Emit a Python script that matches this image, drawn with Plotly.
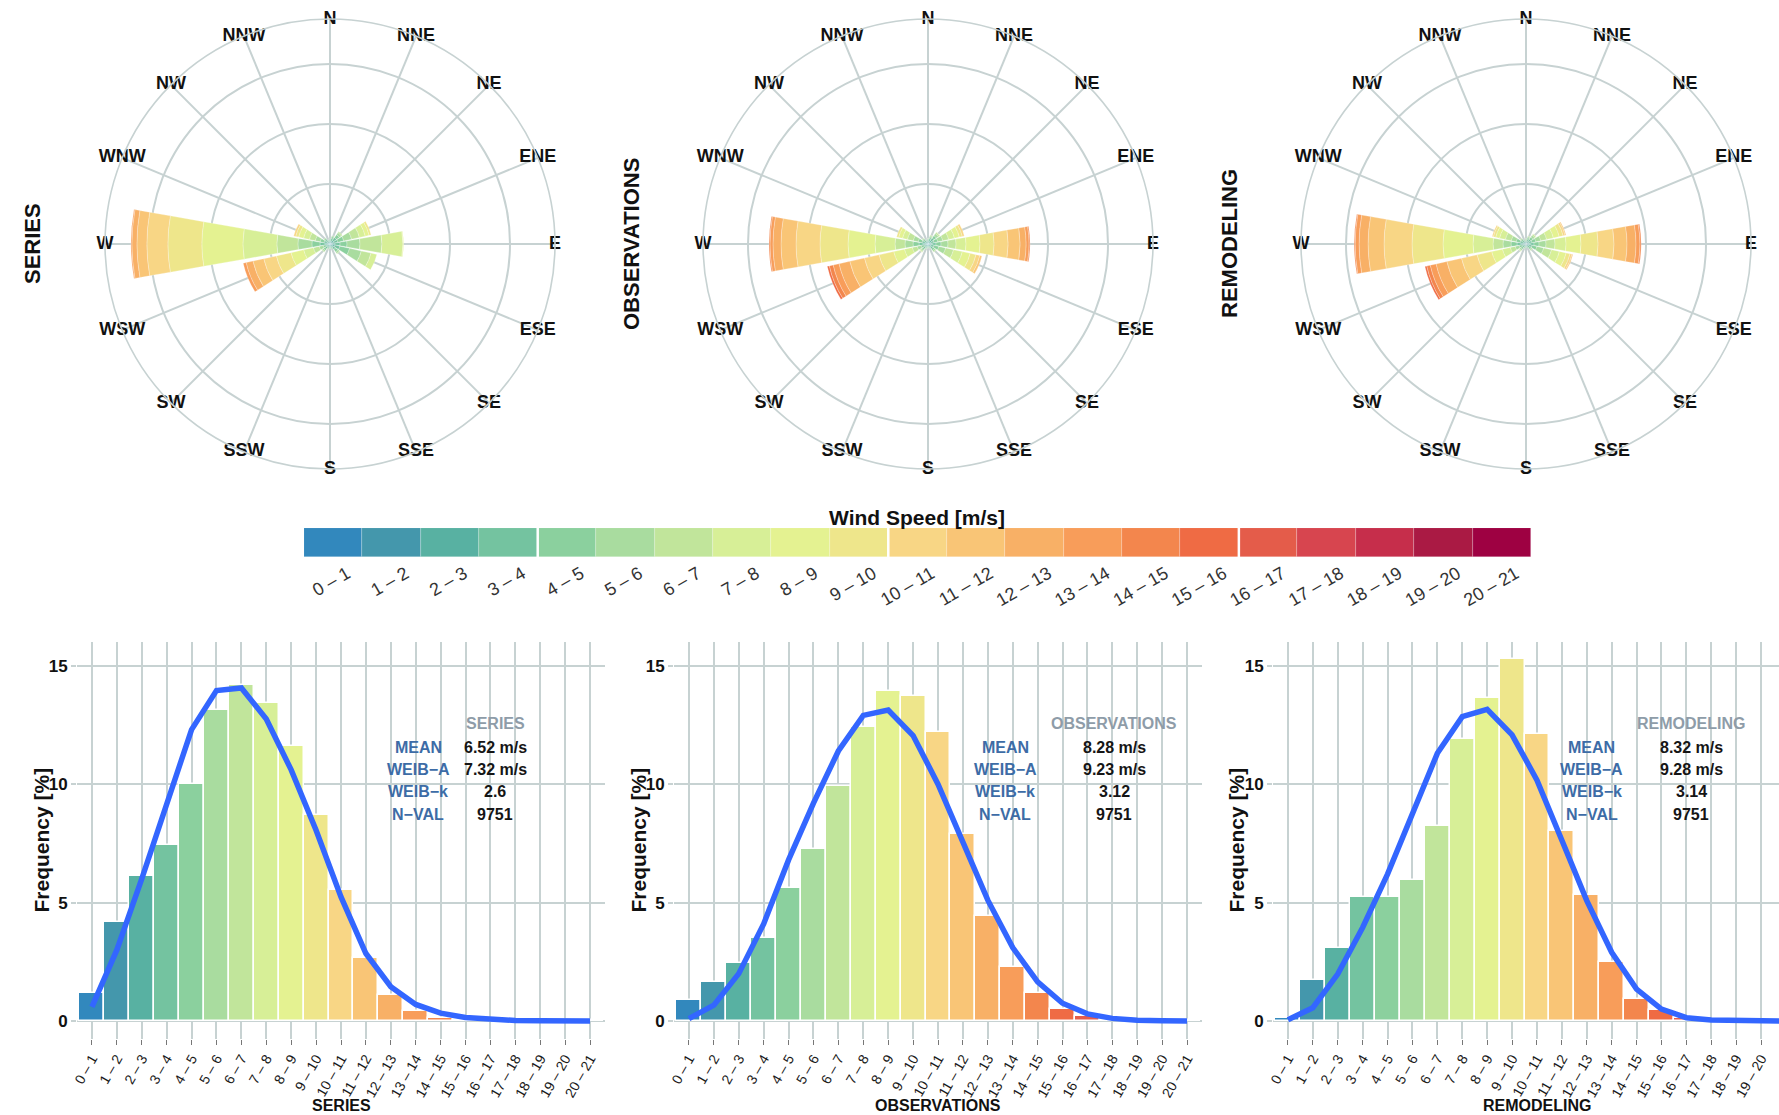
import plotly.graph_objects as go

# ---------------- data ----------------
DIRECTIONS = ["N", "NNE", "NE", "ENE", "E", "ESE", "SE", "SSE",
              "S", "SSW", "SW", "WSW", "W", "WNW", "NW", "NNW"]
SPEED_BINS = ["0 – 1", "1 – 2", "2 – 3", "3 – 4", "4 – 5", "5 – 6", "6 – 7",
              "7 – 8", "8 – 9", "9 – 10", "10 – 11", "11 – 12", "12 – 13",
              "13 – 14", "14 – 15", "15 – 16", "16 – 17", "17 – 18",
              "18 – 19", "19 – 20", "20 – 21"]
PALETTE = ["#3288bd", "#4497ac", "#58b1a2", "#74c3a0", "#8bd09e", "#a9dc9f",
           "#c1e59b", "#d7ef97", "#e4f291", "#eee68b", "#f8d685", "#f9c576",
           "#f8b066", "#f89d5a", "#f3864d", "#ef6b44", "#e45c4a", "#d7454f",
           "#c62e4b", "#aa1a44", "#9e0142"]

# wind-rose frequencies per direction, by speed bin (0-1, 1-2, ...)
ROSE_SERIES = {
    "N":   [0.03, 0.08, 0.12, 0.12, 0.08],
    "NNE": [0.03, 0.10, 0.15, 0.20, 0.15, 0.08],
    "NE":  [0.04, 0.12, 0.20, 0.30, 0.30, 0.20, 0.10],
    "ENE": [0.04, 0.13, 0.17, 0.33, 0.50, 0.67, 0.67, 0.50, 0.33, 0.17],
    "E":   [0.04, 0.13, 0.25, 0.42, 0.58, 1.08, 1.83, 1.75, 0.05],
    "ESE": [0.04, 0.13, 0.25, 0.42, 0.83, 1.00, 0.83, 0.50],
    "SE":  [0.04, 0.10, 0.18, 0.25, 0.25, 0.15, 0.05],
    "SSE": [0.03, 0.08, 0.12, 0.12, 0.06],
    "S":   [0.03, 0.08, 0.10, 0.10, 0.05],
    "SSW": [0.03, 0.08, 0.12, 0.12, 0.08, 0.04],
    "SW":  [0.04, 0.10, 0.15, 0.20, 0.18, 0.12, 0.06],
    "WSW": [0.03, 0.06, 0.08, 0.17, 0.25, 0.33, 0.50, 0.83, 1.08, 1.25, 1.08, 0.92, 0.58, 0.25],
    "W":   [0.04, 0.13, 0.25, 0.42, 0.67, 1.17, 1.75, 2.83, 3.42, 2.83, 1.75, 0.83, 0.42, 0.08],
    "WNW": [0.03, 0.06, 0.17, 0.25, 0.33, 0.42, 0.50, 0.50, 0.42, 0.25, 0.17],
    "NW":  [0.03, 0.10, 0.15, 0.18, 0.12, 0.06],
    "NNW": [0.03, 0.08, 0.10, 0.10, 0.06],
}
ROSE_OBS = {
    "N":   [0.03, 0.08, 0.12, 0.12, 0.08, 0.04],
    "NNE": [0.03, 0.10, 0.15, 0.18, 0.15, 0.10, 0.05],
    "NE":  [0.04, 0.12, 0.20, 0.25, 0.25, 0.20, 0.12, 0.05],
    "ENE": [0.03, 0.06, 0.17, 0.25, 0.33, 0.42, 0.50, 0.50, 0.42, 0.25, 0.17],
    "E":   [0.04, 0.13, 0.17, 0.33, 0.42, 0.58, 0.67, 0.83, 1.17, 1.17, 1.17, 1.00, 0.50, 0.25, 0.08],
    "ESE": [0.03, 0.06, 0.17, 0.25, 0.42, 0.58, 0.67, 0.75, 0.67, 0.50, 0.33, 0.17],
    "SE":  [0.04, 0.10, 0.15, 0.20, 0.18, 0.12, 0.06],
    "SSE": [0.03, 0.08, 0.10, 0.10, 0.06],
    "S":   [0.03, 0.08, 0.10, 0.08, 0.05],
    "SSW": [0.03, 0.08, 0.10, 0.10, 0.08, 0.05],
    "SW":  [0.04, 0.10, 0.15, 0.18, 0.15, 0.12, 0.08, 0.04],
    "WSW": [0.03, 0.06, 0.08, 0.17, 0.25, 0.33, 0.42, 0.67, 0.92, 1.25, 1.25, 1.25, 0.92, 0.50, 0.33, 0.17],
    "W":   [0.04, 0.13, 0.25, 0.33, 0.50, 0.67, 0.83, 1.67, 2.25, 2.33, 2.00, 1.25, 0.67, 0.25, 0.08],
    "WNW": [0.03, 0.06, 0.17, 0.25, 0.33, 0.42, 0.50, 0.42, 0.33, 0.17],
    "NW":  [0.03, 0.08, 0.12, 0.15, 0.12, 0.08, 0.04],
    "NNW": [0.03, 0.08, 0.10, 0.10, 0.06],
}
ROSE_REM = {
    "N":   [0.02, 0.06, 0.10, 0.12, 0.10, 0.06],
    "NNE": [0.03, 0.08, 0.12, 0.15, 0.15, 0.10, 0.05],
    "NE":  [0.03, 0.10, 0.15, 0.20, 0.22, 0.18, 0.12, 0.05],
    "ENE": [0.03, 0.06, 0.17, 0.25, 0.33, 0.42, 0.50, 0.58, 0.50, 0.33, 0.17, 0.08],
    "E":   [0.04, 0.13, 0.17, 0.33, 0.42, 0.58, 0.75, 0.92, 1.25, 1.42, 1.33, 1.08, 0.75, 0.33, 0.10],
    "ESE": [0.03, 0.06, 0.17, 0.25, 0.42, 0.58, 0.67, 0.67, 0.58, 0.33, 0.17, 0.08],
    "SE":  [0.03, 0.08, 0.12, 0.15, 0.15, 0.10, 0.05],
    "SSE": [0.02, 0.06, 0.10, 0.10, 0.06],
    "S":   [0.02, 0.06, 0.08, 0.08, 0.05],
    "SSW": [0.02, 0.06, 0.10, 0.10, 0.08, 0.04],
    "SW":  [0.03, 0.08, 0.12, 0.15, 0.15, 0.12, 0.08, 0.04],
    "WSW": [0.03, 0.06, 0.08, 0.17, 0.25, 0.33, 0.42, 0.67, 0.92, 1.25, 1.33, 1.25, 0.92, 0.50, 0.30, 0.15],
    "W":   [0.04, 0.13, 0.25, 0.33, 0.50, 0.67, 0.83, 1.67, 2.50, 2.58, 2.33, 1.33, 0.75, 0.33, 0.08],
    "WNW": [0.03, 0.06, 0.17, 0.25, 0.33, 0.42, 0.50, 0.50, 0.33, 0.20, 0.10],
    "NW":  [0.03, 0.08, 0.12, 0.15, 0.12, 0.08, 0.04],
    "NNW": [0.02, 0.06, 0.10, 0.10, 0.06],
}

# histogram frequencies [%] and fitted Weibull curve values per speed bin
SERIES_FREQ = [1.17, 4.17, 6.12, 7.42, 9.99, 13.13, 14.2, 13.44, 11.63, 8.69, 5.53,
               2.67, 1.10, 0.42, 0.14, 0.05, 0.02, 0.01, 0.0, 0.0, 0.05]
SERIES_FIT = [0.6, 3.0, 6.0, 9.2, 12.3, 13.95, 14.06, 12.75, 10.6, 8.05, 5.24,
              2.85, 1.45, 0.7, 0.33, 0.15, 0.06, 0.02, 0.01, 0.0, 0.0]
OBS_FREQ = [0.88, 1.63, 2.46, 3.51, 5.62, 7.28, 9.9, 12.4, 13.95, 13.74, 12.2,
            7.88, 4.42, 2.29, 1.17, 0.5, 0.21, 0.06, 0.02, 0.01, 0.05]
OBS_FIT = [0.1, 0.67, 2.0, 4.1, 6.8, 9.2, 11.4, 12.9, 13.13, 12.05, 10.0,
           7.5, 5.1, 3.1, 1.65, 0.75, 0.3, 0.11, 0.03, 0.01, 0.0]
REM_FREQ = [0.14, 1.72, 3.1, 5.23, 5.23, 5.97, 8.23, 11.89, 13.62, 15.28, 12.1,
            8.02, 5.3, 2.5, 0.92, 0.45, 0.14, 0.05, 0.02, 0.01, 0.05]
REM_FIT = [0.05, 0.56, 1.98, 3.95, 6.2, 8.76, 11.3, 12.85, 13.16, 12.08, 10.17,
           7.63, 5.08, 2.9, 1.35, 0.5, 0.14, 0.04, 0.01, 0.0, 0.0]

PANEL_NAMES = ["SERIES", "OBSERVATIONS", "REMODELING"]
STAT_LABELS = ["MEAN", "WEIB−A", "WEIB−k", "N−VAL"]
SERIES_STATS = ["6.52 m/s", "7.32 m/s", "2.6", "9751"]
OBS_STATS = ["8.28 m/s", "9.23 m/s", "3.12", "9751"]
REM_STATS = ["8.32 m/s", "9.28 m/s", "3.14", "9751"]

# ---------------- styling ----------------
W, H = 1779, 1115
FONT = "Liberation Sans, Arial, Helvetica, sans-serif"
GRID = "#c7d2d2"
CURVE = "#3366ff"
R_MAX = 18.75
ANGLES = [i * 360 / len(DIRECTIONS) for i in range(len(DIRECTIONS))]


def px_x(v):
    return v / W


def px_y(v):
    return 1 - v / H


fig = go.Figure()

# ---------------- wind roses ----------------
rose_centers = [330, 928, 1526]
rose_cy, rose_rad = 244, 225
polar_names = ["polar", "polar2", "polar3"]
for rose, pname in zip([ROSE_SERIES, ROSE_OBS, ROSE_REM], polar_names):
    for b in range(len(SPEED_BINS)):
        r = []
        for d in DIRECTIONS:
            vals = rose.get(d, [])
            r.append(vals[b] if b < len(vals) else 0)
        fig.add_trace(go.Barpolar(
            r=r, theta=ANGLES, width=20, subplot=pname,
            marker=dict(color=PALETTE[b], line=dict(color="rgba(255,255,255,0.45)", width=0.6)),
            showlegend=False, hoverinfo="skip"))
    fig.add_trace(go.Scatterpolar(
        r=[R_MAX] * len(DIRECTIONS), theta=ANGLES, mode="text", text=DIRECTIONS,
        textposition="middle center", cliponaxis=False, subplot=pname,
        textfont=dict(family=FONT, size=18, color="#111", weight="bold"),
        showlegend=False, hoverinfo="skip"))

polar_layouts = {}
for pname, cx in zip(polar_names, rose_centers):
    polar_layouts[pname] = dict(
        domain=dict(x=[px_x(cx - rose_rad), px_x(cx + rose_rad)],
                    y=[px_y(rose_cy + rose_rad), px_y(rose_cy - rose_rad)]),
        bgcolor="white",
        barmode="stack",
        radialaxis=dict(range=[0, R_MAX], tickvals=[5, 10, 15], showticklabels=False,
                        ticks="", showline=False, gridcolor=GRID, gridwidth=1.6),
        angularaxis=dict(rotation=90, direction="clockwise", tickmode="array",
                         tickvals=ANGLES, showticklabels=False, ticks="",
                         showline=True, linecolor=GRID, linewidth=1.6,
                         gridcolor=GRID, gridwidth=1.6),
    )

# ---------------- histograms ----------------
hist_left = [77, 674, 1273]
hist_right = [605, 1202, 1779]
hist_center = [341, 938, 1537]
hist_range_max = [20.6, 20.6, 19.72]
hist_top, hist_bot = 642, 1039
Y_RANGE = [-0.76, 16.0]
freqs = [SERIES_FREQ, OBS_FREQ, REM_FREQ]
fits = [SERIES_FIT, OBS_FIT, REM_FIT]
stats = [SERIES_STATS, OBS_STATS, REM_STATS]
label_x = [13.1, 12.7, 12.2]
value_x = [16.2, 17.07, 16.2]
row_y = [11.56, 10.63, 9.7, 8.73]
title_y = 12.57

axes_layout = {}
annotations = []
shapes = []
for i in range(3):
    xa = "x" if i == 0 else f"x{i + 1}"
    ya = "y" if i == 0 else f"y{i + 1}"
    xkey = "xaxis" if i == 0 else f"xaxis{i + 1}"
    ykey = "yaxis" if i == 0 else f"yaxis{i + 1}"
    fig.add_trace(go.Bar(
        x=SPEED_BINS, y=freqs[i], width=1, xaxis=xa, yaxis=ya,
        marker=dict(color=PALETTE, line=dict(color="white", width=1.5)),
        showlegend=False, hoverinfo="skip"))
    fig.add_trace(go.Scatter(
        x=SPEED_BINS, y=fits[i], mode="lines", xaxis=xa, yaxis=ya,
        line=dict(color=CURVE, width=5.5), showlegend=False, hoverinfo="skip"))
    axes_layout[xkey] = dict(
        domain=[px_x(hist_left[i]), px_x(hist_right[i])], anchor=ya,
        type="category", range=[-0.6, hist_range_max[i]], automargin=False,
        showgrid=True, gridcolor=GRID, gridwidth=1.6,
        ticks="outside", ticklen=5, tickwidth=1.3, tickcolor="#777",
        tickangle=-60, tickfont=dict(family=FONT, size=14, color="#1a1a1a"),
        showline=False, zeroline=False)
    axes_layout[ykey] = dict(
        domain=[px_y(hist_bot), px_y(hist_top)], anchor=xa, automargin=False,
        range=Y_RANGE, tickvals=[0, 5, 10, 15],
        showgrid=True, gridcolor=GRID, gridwidth=1.6,
        ticks="outside", ticklen=5, tickwidth=1.5, tickcolor=GRID,
        tickfont=dict(family=FONT, size=17, color="#111", weight="bold"),
        showline=False, zeroline=False)
    # stats box
    annotations.append(dict(xref=xa, yref=ya, x=value_x[i], y=title_y,
                            text=PANEL_NAMES[i], showarrow=False,
                            xanchor="center", yanchor="middle",
                            font=dict(family=FONT, size=16, color="#8e9ca8", weight="bold")))
    for j, lab in enumerate(STAT_LABELS):
        annotations.append(dict(xref=xa, yref=ya, x=label_x[i], y=row_y[j],
                                text=lab, showarrow=False,
                                xanchor="center", yanchor="middle",
                                font=dict(family=FONT, size=16, color="#3d6ca6", weight="bold")))
        annotations.append(dict(xref=xa, yref=ya, x=value_x[i], y=row_y[j],
                                text=stats[i][j], showarrow=False,
                                xanchor="center", yanchor="middle",
                                font=dict(family=FONT, size=16, color="#151515", weight="bold")))
    # axis titles
    annotations.append(dict(xref="paper", yref="paper",
                            x=px_x(hist_center[i]), y=px_y(1105),
                            xanchor="center", yanchor="middle",
                            text=PANEL_NAMES[i], showarrow=False,
                            font=dict(family=FONT, size=16, color="#111", weight="bold")))
    annotations.append(dict(xref="paper", yref="paper",
                            x=px_x([41, 638, 1236][i]), y=px_y((hist_top + hist_bot) / 2),
                            xanchor="center", yanchor="middle",
                            text="Frequency [%]", textangle=-90, showarrow=False,
                            font=dict(family=FONT, size=21, color="#111", weight="bold")))

# row titles for the roses
for name, xx in zip(PANEL_NAMES, [32, 631, 1229]):
    annotations.append(dict(xref="paper", yref="paper", x=px_x(xx), y=px_y(rose_cy),
                            xanchor="center", yanchor="middle",
                            text=name, textangle=-90, showarrow=False,
                            font=dict(family=FONT, size=22, color="#111", weight="bold")))

# ---------------- colour key ----------------
fig.add_trace(go.Bar(
    x=SPEED_BINS, y=[1] * len(SPEED_BINS), width=1, xaxis="x4", yaxis="y4",
    marker=dict(color=PALETTE, line=dict(color="rgba(255,255,255,0.35)", width=0.6)),
    showlegend=False, hoverinfo="skip"))
axes_layout["xaxis4"] = dict(
    domain=[px_x(304), px_x(1531)], anchor="y4", type="category", automargin=False,
    range=[-0.5, 20.5], showgrid=False, zeroline=False, ticks="",
    ticklabelshift=14, ticklabelstandoff=2,
    tickangle=-30, tickfont=dict(family=FONT, size=18, color="#333"))
axes_layout["yaxis4"] = dict(
    domain=[px_y(557), px_y(528)], anchor="x4", range=[0, 1], visible=False,
    automargin=False)
for sep in [3.5, 9.5, 15.5]:
    shapes.append(dict(type="line", xref="x4", x0=sep, x1=sep, yref="y4",
                       y0=0, y1=1, line=dict(color="white", width=2.5)))
annotations.append(dict(xref="paper", yref="paper", x=px_x(917), y=px_y(517),
                        xanchor="center", yanchor="middle",
                        text="Wind Speed [m/s]", showarrow=False,
                        font=dict(family=FONT, size=21, color="#111", weight="bold")))

fig.update_layout(
    width=W, height=H,
    margin=dict(l=0, r=0, t=0, b=0, autoexpand=False),
    paper_bgcolor="white", plot_bgcolor="white",
    font=dict(family=FONT),
    bargap=0,
    annotations=annotations,
    shapes=shapes,
    **polar_layouts,
    **axes_layout,
)

fig.write_html("out.html")
